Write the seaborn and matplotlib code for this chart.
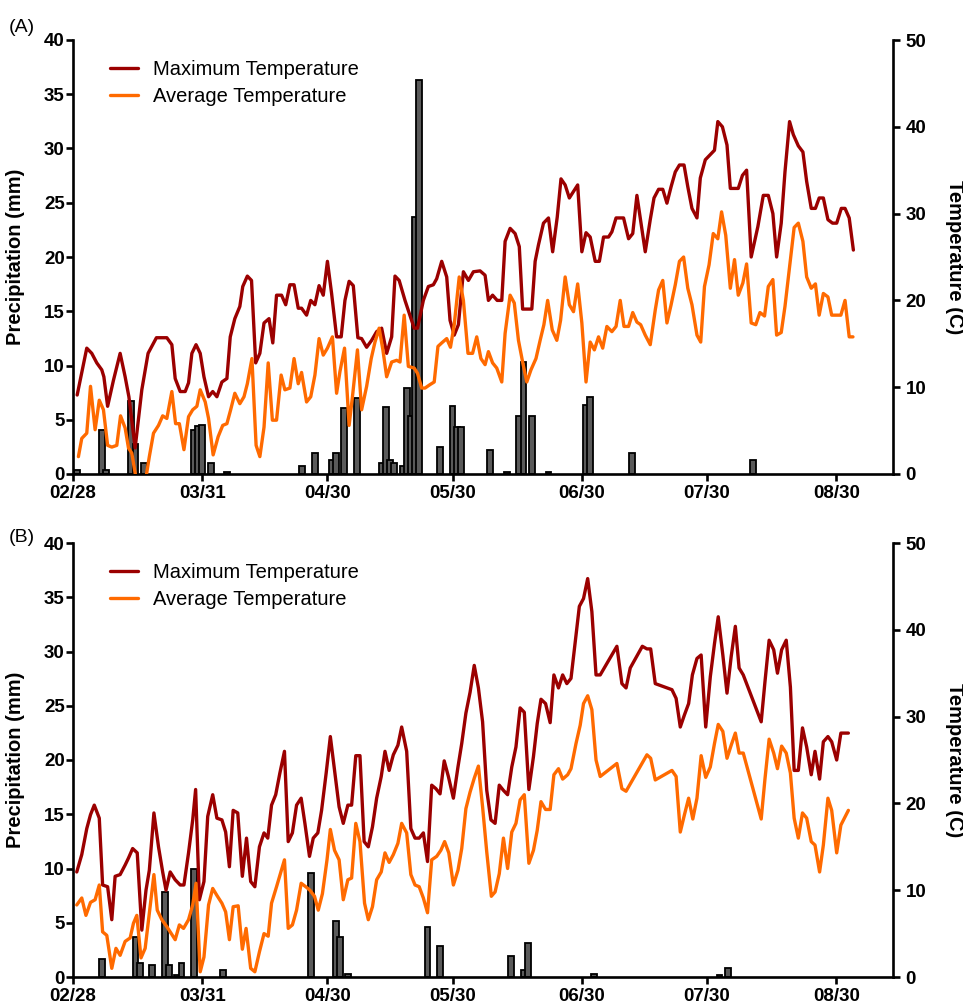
import matplotlib
matplotlib.use("Agg")
import matplotlib.pyplot as plt
import numpy as np
import pandas as pd
import seaborn as sns

sns.set_style("ticks")
plt.rcParams["font.family"] = ["Liberation Sans", "DejaVu Sans"]
plt.rcParams.update({"text.color": "black", "axes.labelcolor": "black",
                     "xtick.color": "black", "ytick.color": "black",
                     "axes.edgecolor": "black"})

# x positions are days counted from 28 February
tick_days = [0, 31, 61, 91, 122, 152, 183]
tick_labels = ["02/28", "03/31", "04/30", "05/30", "06/30", "07/30", "08/30"]

# ---------------- Panel A ----------------
a_max_day = [1.0, 3.3, 4.5, 5.7, 6.9, 7.4, 8.3, 9.7, 11.3, 12.5, 13.4, 14.9, 16.5, 18.0, 20.0, 22.5,
             23.7, 24.5, 25.7, 26.9, 27.7, 28.5, 29.5, 30.5, 31.4, 32.5, 33.5, 34.5, 35.7, 36.9, 37.7,
             38.8, 40.0, 40.7, 41.8, 42.8, 43.8, 44.8, 45.8, 47.0, 47.9, 48.8, 50.0, 51.0, 52.0, 53.0,
             54.0, 54.8, 56.0, 57.0, 58.0, 59.0, 60.0, 61.0, 62.0, 63.2, 64.3, 65.2, 66.2, 67.2, 68.3,
             69.2, 70.4, 71.6, 72.8, 74.0, 75.2, 76.4, 77.2, 78.2, 79.6, 81.8, 82.6, 84.0, 85.2, 86.4,
             87.2, 88.4, 89.6, 90.4, 91.4, 92.4, 93.6, 94.8, 96.0, 97.6, 98.8, 99.6, 100.6, 101.7, 102.8,
             103.6, 104.8, 106.0, 107.0, 107.8, 110.0, 110.8, 111.6, 112.8, 114.0, 115.0, 116.1, 117.0,
             118.0, 119.0, 121.0, 122.0, 123.0, 124.0, 125.2, 126.2, 127.2, 128.4, 129.2, 130.2, 132.0,
             133.2, 134.2, 135.2, 137.2, 138.4, 139.3, 140.4, 141.4, 142.4, 143.4, 144.4, 145.4, 146.5,
             147.4, 148.4, 149.6, 150.4, 151.6, 152.8, 153.8, 154.6, 155.7, 156.8, 157.6, 159.5, 160.5,
             161.5, 162.6, 164.2, 165.5, 166.7, 167.8, 168.7, 169.8, 170.7, 171.8, 172.7, 173.9, 175.0,
             175.9, 177.0, 178.0, 178.9, 179.9, 181.0, 182.1, 183.1, 184.2, 185.1, 186.1, 187.1]
a_max_temp = [9.1, 14.5, 13.9, 12.8, 12.0, 11.2, 7.8, 10.8, 13.9, 11.2, 8.9, 3.0, 9.7, 13.9, 15.7, 15.7,
              14.9, 11.0, 9.5, 9.5, 10.5, 13.9, 14.9, 13.9, 11.2, 8.9, 9.5, 8.9, 10.6, 11.0, 15.8,
              17.9, 19.3, 21.6, 22.8, 22.3, 12.8, 13.9, 17.4, 17.9, 15.1, 20.6, 20.6, 19.5, 21.8, 21.8,
              19.1, 19.1, 18.3, 20.0, 19.5, 21.7, 20.6, 24.5, 20.8, 15.8, 15.8, 20.0, 22.2, 21.7, 15.7,
              15.6, 14.6, 15.4, 16.4, 16.8, 13.9, 15.8, 22.8, 22.3, 20.0, 16.8, 16.8, 20.0, 21.6, 21.8,
              22.5, 24.5, 22.7, 17.7, 16.0, 17.2, 23.3, 22.3, 23.3, 23.4, 22.9, 20.0, 20.6, 20.0, 20.0,
              26.8, 28.3, 27.7, 26.2, 19.0, 19.0, 24.5, 26.4, 28.9, 29.5, 25.6, 29.6, 34.0,
              33.3, 31.8, 33.3, 25.6, 27.8, 27.3, 24.5, 24.5, 27.3, 27.3, 27.9, 29.5, 29.5,
              27.1, 27.7, 32.1, 25.6, 29.3, 31.8, 32.8, 32.8, 31.2, 33.1, 34.8, 35.6, 35.6,
              33.1, 30.6, 29.5, 34.1, 36.2, 36.8, 37.3, 40.6, 40.0, 37.9, 32.9, 32.9, 34.4,
              35.0, 25.0, 28.5, 32.1, 32.1, 30.0, 25.0, 28.9, 34.8, 40.6, 39.1, 37.8, 37.1,
              33.7, 30.6, 30.6, 31.8, 31.8, 29.3, 28.9, 28.9, 30.6, 30.6, 29.5, 25.8]

a_avg_day = [1.3, 2.1, 3.3, 4.2, 5.3, 6.3, 7.3, 8.3, 9.3, 10.5, 11.4, 12.5, 13.3, 14.1, 14.9, 16.0, 17.3,
             18.3, 19.3, 20.5, 21.5, 22.5, 23.7, 24.6, 25.5, 26.6, 27.7, 28.7, 29.7, 30.5, 31.7, 32.5,
             33.6, 34.8, 35.9, 36.9, 37.8, 38.8, 40.0, 41.0, 41.8, 42.9, 43.9, 44.8, 45.8, 46.8, 47.8,
             48.8, 49.9, 50.8, 52.0, 53.0, 54.0, 54.8, 56.0, 57.0, 58.0, 59.0, 60.0, 61.0, 62.2, 63.2,
             64.0, 65.1, 66.2, 67.0, 68.2, 69.2, 70.4, 71.5, 72.4, 73.4, 74.3, 75.2, 76.4, 77.6, 78.4,
             79.4, 80.4, 81.8, 82.6, 83.6, 84.4, 85.6, 86.6, 87.5, 88.4, 89.6, 90.5, 91.4, 92.6, 93.6,
             94.7, 95.8, 96.8, 97.8, 98.8, 99.6, 100.6, 101.6, 102.8, 103.6, 104.8, 105.8, 106.8, 107.8,
             108.8, 109.8, 111.0, 112.0, 112.9, 113.8, 114.9, 116.0, 116.9, 118.0, 119.0, 120.0, 121.0,
             122.0, 123.0, 124.0, 125.0, 126.0, 127.0, 128.0, 129.2, 130.2, 131.2, 132.1, 133.2, 134.2,
             135.2, 136.1, 137.2, 138.4, 139.6, 140.4, 141.4, 142.4, 143.4, 144.4, 145.4, 146.4, 147.4,
             148.4, 149.6, 150.5, 151.4, 152.5, 153.5, 154.6, 155.5, 156.5, 157.6, 158.6, 159.5, 160.6,
             161.5, 162.6, 163.7, 164.7, 165.8, 166.7, 167.8, 168.7, 169.8, 170.7, 172.0, 172.9, 173.9,
             175.0, 175.9, 177.0, 178.0, 178.9, 179.9, 181.0, 181.9, 183.1, 184.1, 185.1, 186.1, 187.0]
a_avg_temp = [2.0, 4.1, 4.7, 10.1, 5.1, 8.5, 7.4, 3.3, 3.1, 3.3, 6.7, 5.3, 3.0, 2.4, 0.1, -2.5, -1.0,
              2.0, 4.7, 5.6, 6.7, 6.4, 9.5, 5.8, 5.8, 2.8, 6.6, 7.4, 7.8, 9.7, 8.3, 6.4,
              2.2, 4.3, 5.6, 5.8, 7.4, 9.3, 8.1, 8.9, 10.4, 13.3, 3.3, 2.0, 5.4, 12.8, 6.2,
              6.2, 11.4, 9.7, 9.9, 13.3, 10.4, 11.7, 8.3, 8.9, 11.4, 15.6, 13.7, 14.5, 15.8, 9.3,
              11.8, 14.5, 5.6, 8.9, 14.3, 7.4, 10.1, 13.3, 15.2, 16.8, 14.3, 11.2, 12.9, 13.1, 12.9,
              18.3, 12.4, 12.2, 11.6, 9.9, 9.9, 10.3, 10.6, 14.7, 15.1, 15.6, 14.6, 17.2, 22.7, 20.0,
              13.9, 13.9, 15.8, 13.3, 12.6, 14.1, 12.8, 12.2, 10.6, 16.2, 20.6, 19.7, 15.4, 12.9,
              10.6, 12.0, 13.3, 15.4, 17.2, 20.0, 16.6, 15.4, 17.7, 22.7, 19.5, 18.7, 21.9,
              17.4, 10.6, 15.2, 14.3, 15.8, 14.5, 17.0, 16.4, 17.0, 20.0, 17.0, 17.0, 18.6,
              17.5, 17.2, 16.0, 14.9, 18.9, 21.2, 22.3, 17.4, 19.5, 21.8, 24.5, 25.0, 21.4,
              19.5, 16.0, 15.2, 21.6, 24.1, 27.7, 27.1, 30.2, 27.5, 21.4, 24.7, 20.6, 22.0,
              24.2, 17.4, 17.2, 18.6, 18.2, 21.6, 22.4, 16.0, 16.3, 19.3, 24.7, 28.4, 28.9,
              26.8, 22.7, 21.4, 21.9, 18.3, 20.8, 20.4, 18.3, 18.3, 18.3, 20.0, 15.8, 15.8]

a_rain_day = [1, 7, 8, 14, 15, 17, 29, 30, 31, 33, 37, 55, 58, 62, 63, 65, 68, 74, 75, 76, 77, 79, 80,
              81, 82, 83, 88, 91, 92, 93, 100, 104, 107, 108, 110, 114, 123, 124, 134, 163]
a_rain_mm = [0.4, 4.05, 0.4, 6.7, 2.8, 1.0, 4.05, 4.4, 4.5, 1.0, 0.2, 0.7, 1.9, 1.3, 1.9, 6.05, 7.0,
             1.0, 6.2, 1.3, 1.0, 0.7, 7.9, 5.3, 23.7, 36.3, 2.5, 6.3, 4.3, 4.3, 2.2, 0.2, 5.3, 10.35,
             5.3, 0.2, 6.4, 7.1, 1.9, 1.3]

# ---------------- Panel B ----------------
b_max_day = [0.9, 2.1, 3.3, 4.2, 5.1, 6.3, 7.1, 8.3, 9.3, 10.1, 11.3, 12.5, 13.3, 14.3, 15.4, 16.5, 17.5,
             18.3, 19.4, 20.5, 21.5, 22.3, 23.3, 24.5, 25.7, 26.6, 27.7, 28.7, 29.4, 30.3, 31.4, 32.3,
             33.5, 34.5, 35.7, 36.6, 37.5, 38.4, 39.5, 40.6, 41.6, 42.6, 43.6, 44.7, 45.8, 46.7, 47.6,
             48.6, 49.6, 50.7, 51.6, 52.6, 53.6, 54.7, 55.6, 56.7, 57.6, 58.7, 59.6, 60.7, 61.7, 62.8,
             63.8, 64.8, 65.9, 66.8, 67.8, 68.8, 69.8, 70.8, 71.8, 72.8, 73.9, 74.8, 75.8, 76.8, 77.9,
             78.8, 80.0, 81.0, 82.0, 83.0, 84.0, 85.0, 86.0, 87.0, 88.0, 89.0, 90.0, 91.2, 92.3, 93.2,
             94.2, 95.2, 96.2, 97.2, 98.2, 99.2, 100.2, 101.2, 102.2, 103.2, 104.2, 105.2, 106.2, 107.2,
             108.2, 109.3, 110.4, 111.3, 112.2, 113.3, 114.4, 115.3, 116.4, 117.4, 118.4, 119.4, 120.4,
             121.4, 122.4, 123.4, 124.4, 125.4, 126.4, 130.4, 131.6, 132.6, 133.6, 136.5, 137.6, 138.5,
             139.6, 143.6, 144.6, 145.6, 146.6, 147.6, 148.5, 149.6, 150.6, 151.7, 152.8, 153.8, 154.7,
             155.8, 156.8, 157.8, 158.8, 159.7, 160.7, 165.0, 165.9, 166.9, 168.0, 168.9, 169.9, 171.0,
             172.0, 172.9, 173.9, 174.9, 175.9, 177.0, 177.9, 179.0, 179.9, 181.0, 181.9, 183.1, 184.1,
             185.9]
b_max_temp = [12.1, 14.1, 17.1, 18.7, 19.8, 18.3, 10.6, 10.4, 6.6, 11.6, 11.8, 12.9, 13.7, 14.8, 14.3,
              5.4, 10.0, 12.3, 18.9, 15.0, 12.1, 10.0, 12.1, 11.2, 10.6, 10.6, 14.3, 18.1, 21.6, 8.9,
              11.0, 18.5, 21.0, 18.3, 18.1, 16.7, 12.7, 19.2, 18.9, 11.6, 16.0, 11.0, 10.4, 15.0, 16.6,
              16.0, 19.8, 21.0, 23.5, 26.0, 15.6, 16.6, 19.8, 20.6, 17.7, 13.9, 16.0, 16.6, 19.2, 23.5,
              27.7, 23.5, 19.6, 17.7, 19.8, 19.8, 25.5, 25.5, 15.6, 15.0, 17.3, 20.6, 23.1, 26.0, 23.8,
              25.6, 26.7, 28.8, 26.0, 17.1, 16.0, 16.0, 16.6, 13.3, 22.1, 21.7, 21.1, 24.9, 23.1, 20.6,
              24.2, 26.9, 30.4, 32.8, 35.9, 33.3, 29.4, 21.5, 18.1, 17.7, 22.1, 21.5, 21.0, 24.2, 26.5,
              31.0, 30.5, 21.6, 25.4, 29.2, 32.0, 31.5, 29.3, 34.8, 33.3, 34.8, 33.8, 34.4, 38.6, 42.7,
              43.6, 45.9, 42.1, 34.8, 34.8, 38.1, 33.8, 33.3, 35.6, 38.1, 37.8, 37.8, 33.8, 33.1, 32.1,
              28.8, 30.2, 31.5, 34.8, 36.7, 37.1, 28.8, 34.6, 38.4, 41.5, 37.1, 32.7, 36.9, 40.4, 35.6,
              34.8, 29.4, 34.0, 38.8, 37.7, 35.0, 37.7, 38.8, 33.4, 23.8, 23.8, 28.7, 26.5, 23.3, 26.0,
              22.8, 27.1, 27.7, 27.1, 25.0, 28.1, 28.1]

b_avg_day = [0.9, 2.1, 3.1, 4.2, 5.3, 6.3, 7.1, 8.1, 9.3, 10.3, 11.3, 12.5, 13.7, 14.5, 15.3, 16.3, 17.3,
             18.3, 19.4, 20.2, 21.3, 22.5, 24.5, 25.5, 26.5, 27.7, 28.7, 29.5, 30.5, 31.4, 32.5, 33.5,
             34.5, 35.7, 36.6, 37.5, 38.4, 39.6, 40.6, 41.5, 42.6, 43.6, 44.7, 45.8, 46.8, 47.6, 48.8,
             50.7, 51.6, 52.6, 53.6, 54.7, 55.8, 56.8, 57.9, 58.8, 59.8, 60.9, 61.7, 62.7, 63.8, 64.8,
             65.9, 66.8, 67.8, 68.8, 69.9, 70.8, 71.8, 72.8, 73.9, 74.8, 75.8, 76.8, 77.9, 78.8, 80.0,
             81.0, 82.0, 83.0, 84.0, 85.0, 86.0, 87.2, 88.2, 89.1, 90.1, 91.2, 92.3, 93.2, 94.2, 95.2,
             96.2, 97.2, 98.2, 99.2, 100.3, 101.2, 102.2, 103.2, 104.2, 105.2, 106.2, 107.2, 108.2,
             109.3, 110.4, 111.3, 112.2, 113.3, 114.4, 115.3, 116.4, 117.4, 118.6, 119.4, 120.6, 121.6,
             122.4, 123.4, 124.4, 125.4, 126.4, 130.4, 131.6, 132.6, 137.6, 138.5, 139.6, 143.6, 144.6,
             145.6, 146.6, 147.6, 148.6, 149.6, 150.6, 151.7, 152.8, 153.8, 154.7, 155.8, 156.8, 157.8,
             158.8, 159.7, 160.7, 165.0, 165.9, 166.9, 168.0, 168.9, 169.9, 171.0, 172.0, 172.9, 173.9,
             174.9, 175.9, 177.0, 177.9, 179.0, 179.9, 181.0, 181.9, 183.1, 184.1, 185.9]
b_avg_temp = [8.3, 9.1, 7.1, 8.6, 8.9, 10.6, 5.2, 4.8, 1.0, 3.3, 2.5, 4.1, 4.5, 6.2, 7.1, 2.2, 3.3,
              7.3, 11.8, 7.7, 6.6, 5.8, 4.3, 6.0, 5.6, 6.6, 8.3, 10.8, 0.6, 2.3, 8.3, 10.2,
              9.4, 8.5, 7.5, 4.3, 8.1, 8.2, 3.2, 5.6, 1.0, 0.6, 2.9, 5.0, 4.7, 8.5, 10.4,
              13.5, 5.6, 6.0, 7.7, 10.8, 10.4, 10.0, 9.3, 7.7, 9.6, 13.5, 17.0, 14.6, 13.5, 8.9,
              11.2, 11.4, 17.7, 15.6, 8.5, 6.6, 8.1, 11.2, 12.1, 14.3, 13.2, 14.1, 15.4, 17.7, 16.6,
              11.8, 10.6, 10.4, 9.1, 7.4, 13.5, 13.9, 14.6, 15.6, 14.3, 10.6, 12.3, 14.8, 19.4, 21.3,
              22.9, 24.3, 19.6, 14.4, 9.3, 9.8, 11.9, 16.0, 12.5, 16.7, 17.7, 20.4, 21.0,
              13.1, 14.6, 16.9, 20.2, 19.3, 19.3, 23.3, 24.0, 22.8, 23.3, 24.0, 26.9, 29.0,
              31.5, 32.4, 30.8, 25.0, 23.1, 24.6, 21.7, 21.4, 25.6, 25.2, 22.7, 23.8, 23.1,
              16.7, 18.7, 20.6, 18.2, 20.6, 25.5, 23.0, 24.2, 26.9, 29.1, 28.3, 25.2, 26.7,
              28.1, 25.8, 25.8, 18.2, 22.8, 27.4, 25.8, 24.0, 26.6, 25.8, 23.5, 18.3, 16.0,
              18.9, 18.3, 15.6, 15.2, 12.1, 15.2, 20.6, 19.2, 14.3, 17.5, 19.2]

b_rain_day = [7, 15, 16, 19, 22, 23, 25, 26, 29, 36, 57, 63, 64, 66, 85, 88, 105, 108, 109, 125, 155, 157]
b_rain_mm = [1.7, 3.7, 1.3, 1.1, 7.8, 1.1, 0.2, 1.3, 10.0, 0.65, 9.6, 5.2, 3.7, 0.3, 4.6, 2.9, 1.9,
             0.65, 3.1, 0.3, 0.2, 0.85]

MAX_COLOR = "#9b0000"
AVG_COLOR = "#ff6a00"
BAR_COLOR = "#5a5a5a"
SPINE_W = 1.9
W, H = 963.0, 1008.0


def draw_panel(rect, tag, tag_y, max_day, max_temp, avg_day, avg_temp, rain_day, rain_mm):
    ax = fig.add_axes(rect)
    rain = pd.DataFrame({"day": rain_day, "mm": rain_mm})
    sns.barplot(data=rain, x="day", y="mm", native_scale=True, width=1.4, color=BAR_COLOR,
                saturation=1, edgecolor="black", linewidth=1.3, errorbar=None, ax=ax)

    ax2 = ax.twinx()
    tmax = pd.DataFrame({"day": max_day, "temp": max_temp})
    tavg = pd.DataFrame({"day": avg_day, "temp": avg_temp})
    sns.lineplot(data=tmax, x="day", y="temp", color=MAX_COLOR, lw=2.4, estimator=None,
                 label="Maximum Temperature", ax=ax2)
    sns.lineplot(data=tavg, x="day", y="temp", color=AVG_COLOR, lw=2.4, estimator=None,
                 label="Average Temperature", ax=ax2)

    ax.set_xlim(0, 196.6)
    ax.set_ylim(0, 40)
    ax2.set_ylim(0, 50)
    ax.set_yticks(np.arange(0, 41, 5))
    ax2.set_yticks(np.arange(0, 51, 10))
    ax.set_xticks(tick_days)
    ax.set_xticklabels(tick_labels)

    for a in (ax, ax2):
        a.spines["top"].set_visible(False)
        for side in ("left", "right", "bottom"):
            a.spines[side].set_linewidth(SPINE_W)
            a.spines[side].set_color("black")
        a.tick_params(width=SPINE_W, length=5, labelsize=13.5, color="black", labelcolor="black")
        for lab in a.get_xticklabels() + a.get_yticklabels():
            lab.set_fontweight("bold")
    ax.spines["right"].set_visible(False)
    ax2.spines["left"].set_visible(False)
    ax2.spines["bottom"].set_visible(False)
    ax.tick_params(axis="y", pad=1)
    ax.tick_params(axis="x", pad=3)
    ax2.tick_params(axis="y", pad=4)

    ax.set_xlabel("")
    ax.set_ylabel("Precipitation (mm)", fontsize=14.5, fontweight="bold", color="black")
    ax.yaxis.set_label_coords(-0.0585, 0.5)
    ax2.set_ylabel("Temperature (C)", fontsize=14.5, fontweight="bold", rotation=270,
                   va="center", color="black")
    ax2.yaxis.set_label_coords(1.0756, 0.5)

    leg = ax2.legend(loc="upper left", bbox_to_anchor=(0.028, 0.986), frameon=False, fontsize=14.5,
                     handlelength=1.4, handletextpad=0.75, labelspacing=0.4, borderaxespad=0.3)
    for t in leg.get_texts():
        t.set_color("black")

    fig.text(0.009, 1 - tag_y / H, tag, fontsize=14, va="center", ha="left", color="black")
    return ax, ax2


fig = plt.figure(figsize=(9.63, 10.08), dpi=100)
left, right = 73 / W, 893 / W
draw_panel([left, 1 - 474 / H, right - left, 434 / H], "(A)", 27,
           a_max_day, a_max_temp, a_avg_day, a_avg_temp, a_rain_day, a_rain_mm)
draw_panel([left, 1 - 977 / H, right - left, 434 / H], "(B)", 538,
           b_max_day, b_max_temp, b_avg_day, b_avg_temp, b_rain_day, b_rain_mm)

fig.savefig("out.png", dpi=100)
